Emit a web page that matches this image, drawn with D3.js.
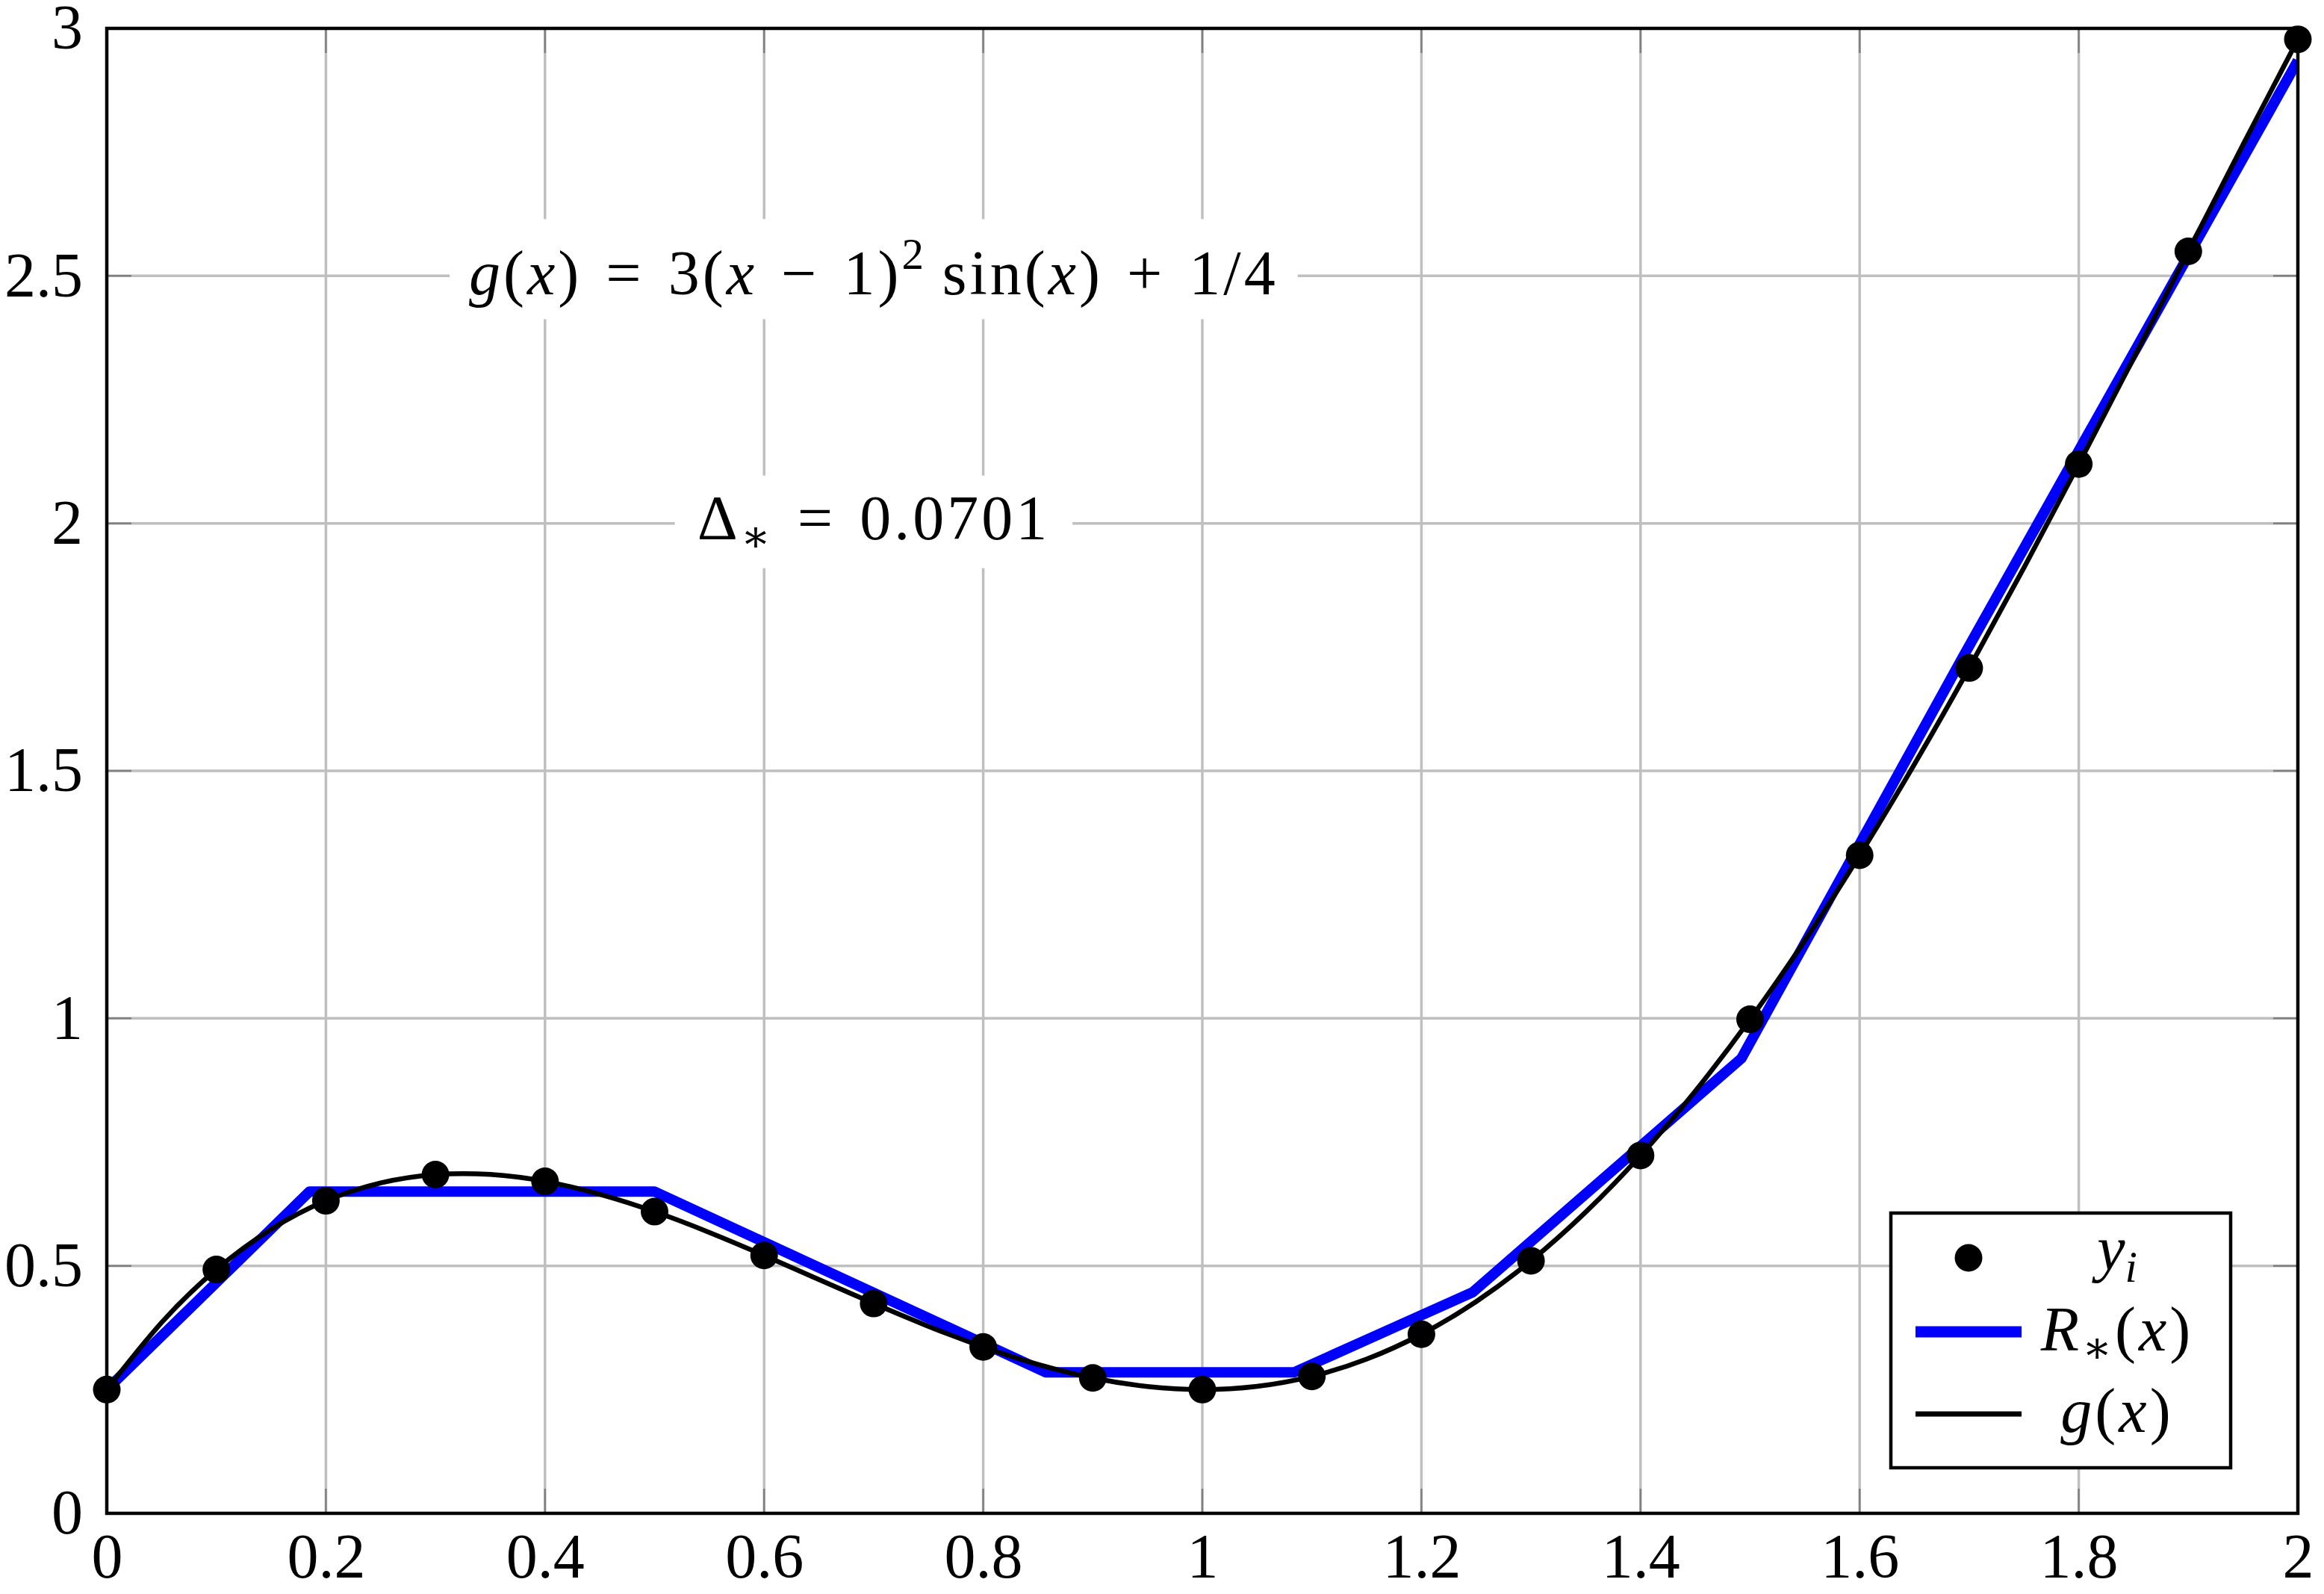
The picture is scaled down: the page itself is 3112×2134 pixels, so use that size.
<!DOCTYPE html>
<html>
<head>
<meta charset="utf-8">
<script src="https://cdn.jsdelivr.net/npm/d3@7"></script>
<style>
  body { margin: 0; background: #fff; }
  svg text { font-family: "Liberation Serif", "DejaVu Serif", serif; white-space: pre; }
</style>
</head>
<body>
<div id="chart"></div>
<script>
var width = 3112;
var height = 2134;

// tick values and labels
var xTicks = [0, 0.2, 0.4, 0.6, 0.8, 1, 1.2, 1.4, 1.6, 1.8, 2];
var xTickLabels = ["0", "0.2", "0.4", "0.6", "0.8", "1", "1.2", "1.4", "1.6", "1.8", "2"];
var yTicks = [0, 0.5, 1, 1.5, 2, 2.5, 3];
var yTickLabels = ["0", "0.5", "1", "1.5", "2", "2.5", "3"];

// sample points y_i
var xi = [0, 0.1, 0.2, 0.3, 0.4, 0.5, 0.6, 0.7, 0.8, 0.9, 1, 1.1, 1.2, 1.3, 1.4, 1.5, 1.6, 1.7, 1.8, 1.9, 2];
var yi = [0.25, 0.4926, 0.6314, 0.6844, 0.6706, 0.6096, 0.5210, 0.4239, 0.3361, 0.2735, 0.25,
          0.2767, 0.3618, 0.5102, 0.7230, 0.9981, 1.3295, 1.7078, 2.1198, 2.5495, 2.9779];

// curve g(x)
var gx = [0, 0.05, 0.1, 0.15, 0.2, 0.25, 0.3, 0.35, 0.4, 0.45, 0.5, 0.55, 0.6, 0.65, 0.7, 0.75, 0.8, 0.85, 0.9, 0.95, 1,
          1.05, 1.1, 1.15, 1.2, 1.25, 1.3, 1.35, 1.4, 1.45, 1.5, 1.55, 1.6, 1.65, 1.7, 1.75, 1.8, 1.85, 1.9, 1.95, 2];
var gy = [0.25, 0.3853, 0.4926, 0.5739, 0.6314, 0.6675, 0.6844, 0.6846, 0.6706, 0.6447, 0.6096, 0.5675, 0.5210,
          0.4724, 0.4239, 0.3778, 0.3361, 0.3007, 0.2735, 0.2561, 0.25, 0.2565, 0.2767, 0.3116, 0.3618, 0.4279,
          0.5102, 0.6086, 0.7230, 0.8531, 0.9981, 1.1573, 1.3295, 1.5135, 1.7078, 1.9105, 2.1198, 2.3336, 2.5495,
          2.7652, 2.9779];

// piecewise linear R_*(x)
var rx = [0, 0.185, 0.5, 0.857, 1.084, 1.247, 1.492, 1.693, 2];
var ry = [0.25, 0.65, 0.65, 0.285, 0.285, 0.447, 0.919, 1.725, 2.935];

var svg = d3.select("#chart")
      .append("svg")
      .attr("width", width)
      .attr("height", height);

var x = d3.scaleLinear().domain([0, 2]).range([143, 3077]);
var y = d3.scaleLinear().domain([0, 3]).range([2026, 38]);

var fontSize = 84;

// grid
var grid = svg.append("g");
grid.selectAll(".gx").data(xTicks).enter().append("line")
  .attr("x1", function(d){ return x(d); }).attr("x2", function(d){ return x(d); })
  .attr("y1", y(0)).attr("y2", y(3))
  .attr("stroke", "#bfbfbf").attr("stroke-width", 3.5);
grid.selectAll(".gy").data(yTicks).enter().append("line")
  .attr("y1", function(d){ return y(d); }).attr("y2", function(d){ return y(d); })
  .attr("x1", x(0)).attr("x2", x(2))
  .attr("stroke", "#bfbfbf").attr("stroke-width", 3.5);

// small inner ticks on all four sides
var tickLen = 33;
var ticks = svg.append("g").attr("stroke", "#808080").attr("stroke-width", 2.5);
xTicks.forEach(function(d){
  ticks.append("line").attr("x1", x(d)).attr("x2", x(d)).attr("y1", y(0)).attr("y2", y(0) - tickLen);
  ticks.append("line").attr("x1", x(d)).attr("x2", x(d)).attr("y1", y(3)).attr("y2", y(3) + tickLen);
});
yTicks.forEach(function(d){
  ticks.append("line").attr("y1", y(d)).attr("y2", y(d)).attr("x1", x(0)).attr("x2", x(0) + tickLen);
  ticks.append("line").attr("y1", y(d)).attr("y2", y(d)).attr("x1", x(2)).attr("x2", x(2) - tickLen);
});

// tick labels through d3 axes
var xAxis = d3.axisBottom(x)
  .tickValues(xTicks)
  .tickFormat(function(d, i){ return xTickLabels[i]; })
  .tickSize(0)
  .tickPadding(26);
var yAxis = d3.axisLeft(y)
  .tickValues(yTicks)
  .tickFormat(function(d, i){ return yTickLabels[i]; })
  .tickSize(0)
  .tickPadding(32);

function styleAxis(g){
  g.select(".domain").remove();
  g.selectAll("line").remove();
  g.selectAll("text")
    .style("font-family", "'Liberation Serif', 'DejaVu Serif', serif")
    .style("font-size", fontSize + "px")
    .attr("fill", "#000");
}

svg.append("g").attr("transform", "translate(0," + y(0) + ")").call(xAxis).call(styleAxis);
svg.append("g").attr("transform", "translate(" + x(0) + ",0)").call(yAxis).call(styleAxis);

// math-ish text helper
function mathText(g, cx, baseline, parts){
  var t = g.append("text")
    .attr("x", cx).attr("y", baseline)
    .attr("text-anchor", "middle")
    .attr("font-size", fontSize)
    .attr("fill", "#000");
  parts.forEach(function(p){
    var s = t.append("tspan").text(p.t);
    if (p.it) s.attr("font-style", "italic");
    if (p.size) s.attr("font-size", p.size);
    if (p.dy) s.attr("dy", p.dy);
  });
  return t;
}

function withBackground(g, t, padX, padY){
  var b = t.node().getBBox();
  g.insert("rect", function(){ return t.node(); })
    .attr("x", b.x - padX).attr("y", b.y - padY)
    .attr("width", b.width + 2 * padX).attr("height", b.height + 2 * padY)
    .attr("fill", "#fff");
}

// annotations (wider spaces mimic TeX operator spacing)
var sp = "\u2004";
var ann = svg.append("g");
var f1 = mathText(ann, x(0.7), y(2.5) + 25, [
  {t: "g", it: true}, {t: "("}, {t: "x", it: true}, {t: ")" + sp + "=" + sp + "3("}, {t: "x", it: true},
  {t: sp + "\u2212" + sp + "1)"}, {t: "2", size: 59, dy: -34}, {t: "\u2009sin(", dy: 34}, {t: "x", it: true},
  {t: ")" + sp + "+" + sp + "1/4"}
]).attr("letter-spacing", 4);
withBackground(ann, f1, 26, 14);
var f2 = mathText(ann, x(0.7), y(2) + 21, [
  {t: "\u0394"}, {t: "\u2217", size: 59, dy: 16}, {t: sp + "=" + sp + "0.0701", dy: -16}
]).attr("letter-spacing", 4);
withBackground(ann, f2, 30, 10);

// clip for lines
svg.append("clipPath").attr("id", "plotclip")
  .append("rect")
  .attr("x", x(0)).attr("y", y(3))
  .attr("width", x(2) - x(0)).attr("height", y(0) - y(3));

var plot = svg.append("g").attr("clip-path", "url(#plotclip)");

var rData = rx.map(function(d, i){ return [d, ry[i]]; });
var gData = gx.map(function(d, i){ return [d, gy[i]]; });

var line = d3.line()
  .x(function(d){ return x(d[0]); })
  .y(function(d){ return y(d[1]); });

plot.append("path")
  .datum(rData)
  .attr("d", line)
  .attr("fill", "none")
  .attr("stroke", "#0000ff")
  .attr("stroke-width", 14)
  .attr("stroke-linejoin", "round");

plot.append("path")
  .datum(gData)
  .attr("d", line.curve(d3.curveNatural))
  .attr("fill", "none")
  .attr("stroke", "#000")
  .attr("stroke-width", 6.5)
  .attr("stroke-linejoin", "round");

// axis box
svg.append("rect")
  .attr("x", x(0)).attr("y", y(3))
  .attr("width", x(2) - x(0)).attr("height", y(0) - y(3))
  .attr("fill", "none")
  .attr("stroke", "#000")
  .attr("stroke-width", 4.5);

// data points
svg.append("g").selectAll("circle")
  .data(xi)
  .enter().append("circle")
  .attr("cx", function(d){ return x(d); })
  .attr("cy", function(d, i){ return y(yi[i]); })
  .attr("r", 18.5)
  .attr("fill", "#000");

// legend
var lgRight = x(2) - 90, lgBottom = y(0) - 61;
var lgW = 455, lgH = 341;
var lg = svg.append("g").attr("transform", "translate(" + (lgRight - lgW) + "," + (lgBottom - lgH) + ")");
lg.append("rect")
  .attr("width", lgW).attr("height", lgH)
  .attr("fill", "#fff").attr("stroke", "#000").attr("stroke-width", 4.5);

lg.append("circle").attr("cx", 104).attr("cy", 60).attr("r", 18.5).attr("fill", "#000");
lg.append("line").attr("x1", 33).attr("x2", 175).attr("y1", 159).attr("y2", 159)
  .attr("stroke", "#0000ff").attr("stroke-width", 15);
lg.append("line").attr("x1", 33).attr("x2", 175).attr("y1", 269).attr("y2", 269)
  .attr("stroke", "#000").attr("stroke-width", 7);

mathText(lg, 303, 76, [{t: "y", it: true}, {t: "i", it: true, size: 59, dy: 16}]);
mathText(lg, 303, 184, [{t: "R", it: true}, {t: "\u2217", size: 59, dy: 16}, {t: "(", dy: -16}, {t: "x", it: true}, {t: ")"}])
  .attr("letter-spacing", 4);
mathText(lg, 303, 293, [{t: "g", it: true}, {t: "("}, {t: "x", it: true}, {t: ")"}])
  .attr("letter-spacing", 4);
</script>
</body>
</html>
